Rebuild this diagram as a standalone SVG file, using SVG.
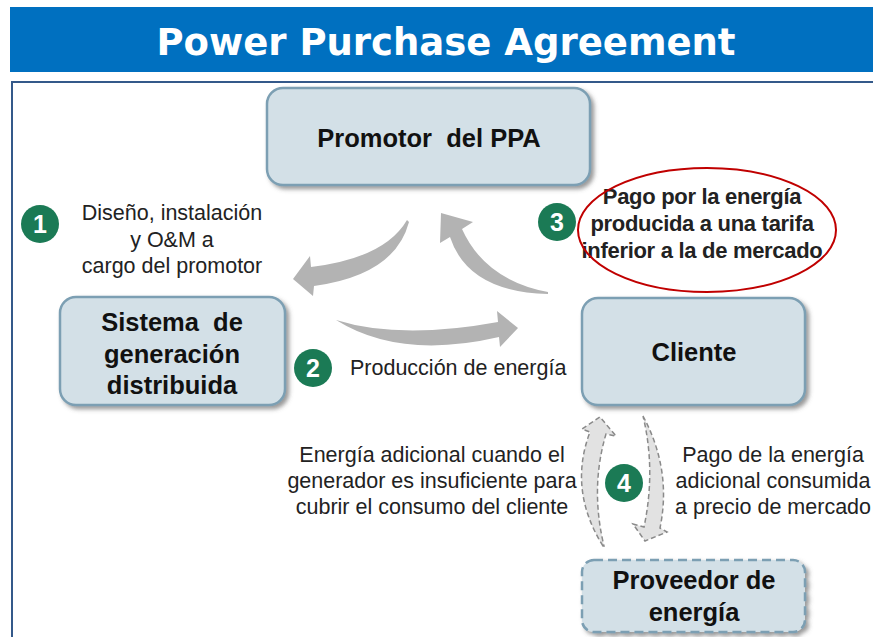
<svg xmlns="http://www.w3.org/2000/svg" width="873" height="637" viewBox="0 0 873 637">
<style>
.node{fill:#D3E0E7;stroke:#7C9FB3;stroke-width:2.5;filter:url(#sh)}
.dash{stroke-dasharray:9,5}
.nt{font-family:"Liberation Sans",Arial,sans-serif;font-weight:bold;font-size:25.5px;fill:#111;text-anchor:middle;white-space:pre}
.lb{font-family:"Liberation Sans",Arial,sans-serif;font-size:21.5px;fill:#222;text-anchor:middle}
.lbb{font-family:"Liberation Sans",Arial,sans-serif;font-weight:bold;font-size:22px;fill:#222;text-anchor:middle;letter-spacing:-0.3px}
.num circle{fill:#1B7A55}
.num text{font-family:"Liberation Sans",Arial,sans-serif;font-weight:bold;font-size:25px;fill:#fff;text-anchor:middle}
.big{fill:#B3B3B3}
.dsh{fill:#E2E2E2;stroke:#8A8A8A;stroke-width:1.5;stroke-dasharray:5,3}
</style>
<defs>
<filter id="sh" x="-10%" y="-10%" width="125%" height="130%">
<feDropShadow dx="3" dy="3" stdDeviation="2" flood-color="#555" flood-opacity="0.6"/>
</filter>
</defs>
<rect x="0" y="0" width="873" height="637" fill="#fff"/>
<g id="title">
<rect x="10" y="7" width="863" height="65" fill="#0070C0"/>
<text x="446" y="55" font-family="DejaVu Sans" font-weight="bold" font-size="37" fill="#fff" text-anchor="middle">Power Purchase Agreement</text>
</g>
<g id="frame" fill="none" stroke="#34598A" stroke-width="2">
<path d="M12,637 V82 H873"/>
</g>
<g id="connectors">
<path class="big" d="M407,220 Q385,258 311,267 L310,256 L293,279 L313,296 L314,286 Q395,275 409,222 Z"/>
<path class="big" d="M548,292 Q485,280 462,229 L473,222 L441,213 L440,243 L450,237 Q468,292 548,294 Z"/>
<path class="big" d="M336,320 Q400,340 498,322 L497,311 L518,328 L500,347 L499,337 Q400,360 336,320 Z"/>
<path class="dsh" d="M603,546 Q568,490 590,432 L582,429 L600,417 L616,436 L606,434 Q590,488 604,546 Z"/>
<path class="dsh" d="M643,416 Q672,470 660,528 L667,532 L645,541 L633,524 L644,527 Q656,470 643,416 Z"/>
</g>
<g id="promotor">
<rect class="node" x="267" y="88" width="323" height="97" rx="16"/>
<text class="nt" x="429" y="147">Promotor  del PPA</text>
</g>
<g id="sistema">
<rect class="node" x="60" y="297" width="225" height="108" rx="16"/>
<text class="nt" x="172" y="331">Sistema  de</text>
<text class="nt" x="172" y="363">generación</text>
<text class="nt" x="172" y="394">distribuida</text>
</g>
<g id="cliente">
<rect class="node" x="582" y="298" width="223" height="107" rx="16"/>
<text class="nt" x="694" y="361">Cliente</text>
</g>
<g id="proveedor">
<rect class="node dash" x="582" y="560" width="223" height="72" rx="12"/>
<text class="nt" x="694" y="589">Proveedor de</text>
<text class="nt" x="694" y="621">energía</text>
</g>
<g id="step1">
<g class="num"><circle cx="40" cy="224" r="19"/><text x="40" y="233">1</text></g>
<text class="lb" x="172" y="220">Diseño, instalación</text>
<text class="lb" x="172" y="247">y O&amp;M a</text>
<text class="lb" x="172" y="273">cargo del promotor</text>
</g>
<g id="step2">
<g class="num"><circle cx="313" cy="368" r="19"/><text x="313" y="377">2</text></g>
<text class="lb" x="350" y="375" style="text-anchor:start">Producción de energía</text>
</g>
<g id="step3">
<g class="num"><circle cx="557" cy="222" r="19"/><text x="557" y="231">3</text></g>
<text class="lbb" x="702" y="204">Pago por la energía</text>
<text class="lbb" x="702" y="231">producida a una tarifa</text>
<text class="lbb" x="702" y="258">inferior a la de mercado</text>
<ellipse cx="707" cy="230" rx="129" ry="62" fill="none" stroke="#C00000" stroke-width="2"/>
</g>
<g id="step4">
<g class="num"><circle cx="624" cy="483" r="19"/><text x="624" y="492">4</text></g>
<text class="lb" x="432" y="462">Energía adicional cuando el</text>
<text class="lb" x="432" y="488">generador es insuficiente para</text>
<text class="lb" x="432" y="514">cubrir el consumo del cliente</text>
<text class="lb" x="773" y="462">Pago de la energía</text>
<text class="lb" x="773" y="488">adicional consumida</text>
<text class="lb" x="773" y="514">a precio de mercado</text>
</g>
</svg>
